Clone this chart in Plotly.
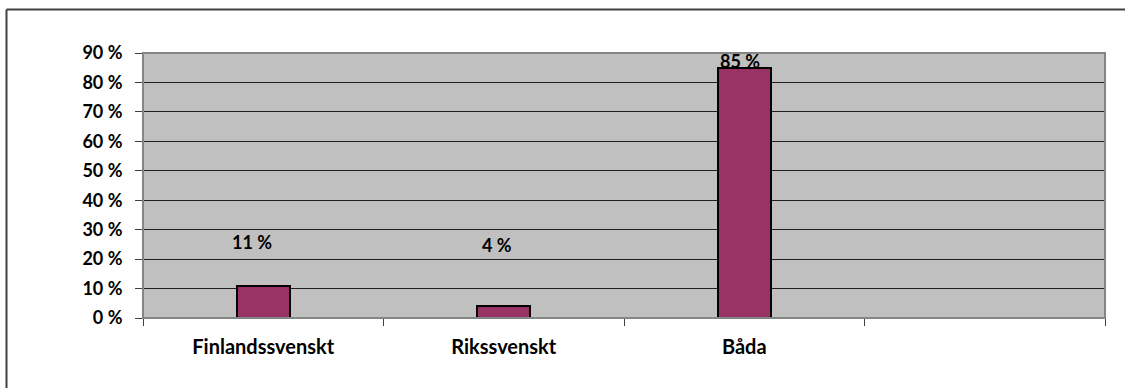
import plotly.graph_objects as go

# Survey answers: which Swedish variant is used
categories = ["Finlandssvenskt", "Rikssvenskt", "Båda", " "]
shares = [11, 4, 85, None]          # percent
y_ticks = [0, 10, 20, 30, 40, 50, 60, 70, 80, 90]

# Styling
W, H = 1125, 388
M_L, M_R, M_T, M_B = 143, 20, 53, 70
FONT = "Lato"
BAR_COLOR = "#993366"
PLOT_BG = "#C0C0C0"
label_lift = [44, 61, 7]      # px above bar top for the value labels
label_nudge = [-11, -7, -4]   # px horizontal nudge for the value labels

fig = go.Figure()
fig.add_trace(go.Bar(
    x=categories,
    y=shares,
    width=0.22,
    marker=dict(color=BAR_COLOR, line=dict(color="#000000", width=2)),
    hoverinfo="x+y",
))

annotations = []
for cat, val, lift, nudge in zip(categories, shares, label_lift, label_nudge):
    if val is None:
        continue
    annotations.append(dict(
        x=cat, y=val, xref="x", yref="y",
        text=f"{val} %", showarrow=False,
        yanchor="middle", yshift=lift, xshift=nudge,
        font=dict(family=FONT, size=18, color="#000000", weight="bold"),
    ))

plot_w = W - M_L - M_R
plot_h = H - M_T - M_B

def px_x(px):
    return (px - M_L) / plot_w

def px_y(py):
    return 1 - (py - M_T) / plot_h

shapes = [
    # plot area frame
    dict(type="rect", xref="paper", yref="paper", x0=0, x1=1, y0=0, y1=1,
         line=dict(color="#858585", width=2), layer="above"),
    # outer chart frame (left and top edges)
    dict(type="line", xref="paper", yref="paper",
         x0=px_x(6.5), x1=px_x(6.5), y0=px_y(9.5), y1=px_y(400),
         line=dict(color="#404040", width=2)),
    dict(type="line", xref="paper", yref="paper",
         x0=px_x(6.5), x1=px_x(1130), y0=px_y(9.5), y1=px_y(9.5),
         line=dict(color="#404040", width=2)),
]

fig.update_layout(
    width=W, height=H,
    margin=dict(l=M_L, r=M_R, t=M_T, b=M_B),
    paper_bgcolor="#FFFFFF",
    plot_bgcolor=PLOT_BG,
    showlegend=False,
    bargap=0,
    annotations=annotations,
    shapes=shapes,
    font=dict(family=FONT, size=18, color="#000000", weight="bold"),
)

fig.update_xaxes(
    type="category",
    categoryorder="array", categoryarray=categories,
    range=[-0.5, len(categories) - 0.5],
    tickson="boundaries",
    ticks="outside", ticklen=7, tickcolor="#404040", tickwidth=1,
    showgrid=False,
    showline=True, linecolor="#404040", linewidth=1,
    ticklabelstandoff=11,
    tickfont=dict(family=FONT, size=20, color="#000000", weight="bold"),
    fixedrange=True,
)

fig.update_yaxes(
    range=[0, 90],
    tickvals=y_ticks,
    ticktext=[f"{v} %" for v in y_ticks],
    ticks="outside", ticklen=7, tickcolor="#404040", tickwidth=1,
    showgrid=True, gridcolor="#1F1F1F", gridwidth=1,
    zeroline=False,
    showline=True, linecolor="#404040", linewidth=1,
    ticklabelstandoff=9,
    tickfont=dict(family=FONT, size=18, color="#000000", weight="bold"),
    fixedrange=True,
)

fig.write_html("out.html", config={"displayModeBar": False})
